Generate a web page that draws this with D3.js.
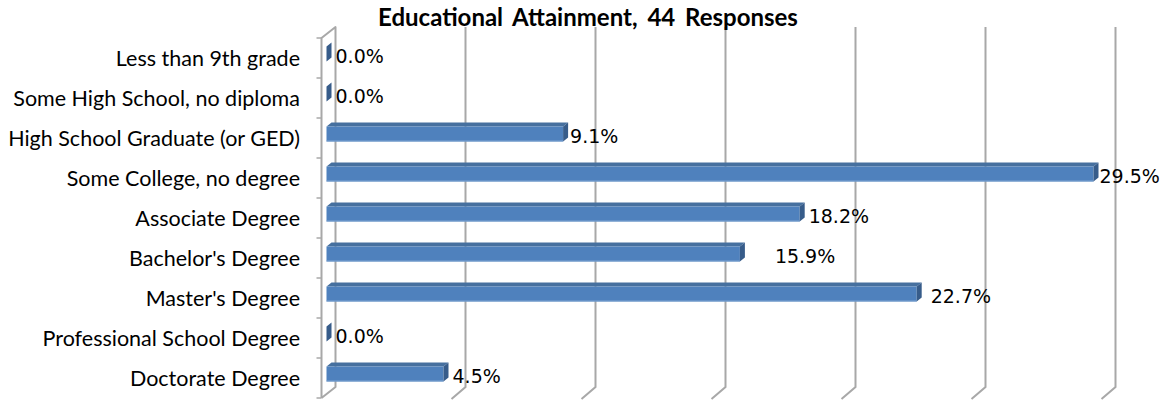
<!DOCTYPE html>
<html>
<head>
<meta charset="utf-8">
<script src="https://cdn.jsdelivr.net/npm/d3@7/dist/d3.min.js"></script>
<style>
  html, body { margin: 0; padding: 0; background: #fff; }
  svg { display: block; }
</style>
</head>
<body>
<script>
// ---------------- data ----------------
const title = "Educational Attainment, 44 Responses";
const categories = [
  "Less than 9th grade",
  "Some High School, no diploma",
  "High School Graduate (or GED)",
  "Some College, no degree",
  "Associate Degree",
  "Bachelor's Degree",
  "Master's Degree",
  "Professional School Degree",
  "Doctorate Degree"
];
const values = [0.0, 0.0, 9.1, 29.5, 18.2, 15.9, 22.7, 0.0, 4.5];
const valueLabels = ["0.0%", "0.0%", "9.1%", "29.5%", "18.2%", "15.9%", "22.7%", "0.0%", "4.5%"];
const gridTicks = [0, 5, 10, 15, 20, 25, 30];

// ---------------- layout ----------------
const W = 1168, H = 403;
const front = { x0: 321.5, y0: 38, y1: 398 };   // front plane of the 3D box
const depth = { dx: 14, dy: -11 };               // front -> back wall offset
const barDepth = { dx: 5, dy: -4 };               // depth of each bar
const barOffset = { dx: 5, dy: -4 };              // bar front face position relative to front plane
const barThickness = 15;
const labelNudge = { "Bachelor's Degree": 26, "Master's Degree": 5, "Some College, no degree": -3, "High School Graduate (or GED)": -2 };

const svg = d3.select("body").append("svg").attr("width", W).attr("height", H);

const x = d3.scaleLinear().domain([0, 30]).range([0, 780]);
const y = d3.scaleBand().domain(categories).range([front.y0, front.y1]).paddingInner(0).paddingOuter(0);

const backX0 = front.x0 + depth.dx;
const backY0 = front.y0 + depth.dy;
const backY1 = front.y1 + depth.dy;

// gridlines on back wall + floor segments
const grid = svg.append("g");
gridTicks.forEach(t => {
  const gx = backX0 + x(t);
  if (t > 0) {
    grid.append("path")
      .attr("d", `M${gx},${backY0} L${gx},${backY1} L${gx - depth.dx},${front.y1 + 1}`)
      .attr("fill", "none").attr("stroke", "#a8a8a8").attr("stroke-width", 2);
  }
});

// left wall
const wall = svg.append("g");
wall.append("path")
  .attr("d", `M${front.x0},${front.y1} L${front.x0},${front.y0} L${backX0},${backY0} L${backX0},${backY1} L${front.x0},${front.y1}`)
  .attr("fill", "none").attr("stroke", "#a8a8a8").attr("stroke-width", 2).attr("stroke-linejoin", "round");

// category ticks on the front edge of the wall
const tickYs = categories.map(c => y(c)).concat([front.y1]);
wall.selectAll("line.tick").data(tickYs).enter().append("line")
  .attr("x1", front.x0 - 5).attr("x2", front.x0)
  .attr("y1", d => d).attr("y2", d => d)
  .attr("stroke", "#a8a8a8").attr("stroke-width", 1.5);

// category labels
svg.append("g").selectAll("text").data(categories).enter().append("text")
  .attr("x", 300)
  .attr("y", d => y(d) + y.bandwidth() / 2 + 7.5)
  .attr("text-anchor", "end")
  .attr("font-family", "Lato, 'Open Sans', sans-serif")
  .attr("font-size", 21.5)
  .attr("fill", "#000")
  .text(d => d);

// bars
const bars = svg.append("g");
const bx0 = front.x0 + barOffset.dx;
categories.forEach((c, i) => {
  const cy = y(c) + y.bandwidth() / 2 + barOffset.dy;
  const top = cy - barThickness / 2, bot = cy + barThickness / 2;
  const x1 = bx0 + x(values[i]);
  const g = bars.append("g");
  // top face
  g.append("path")
    .attr("d", `M${bx0},${top} L${bx0 + barDepth.dx},${top + barDepth.dy} L${x1 + barDepth.dx},${top + barDepth.dy} L${x1},${top} Z`)
    .attr("fill", "#46709f");
  // front face
  if (values[i] > 0) {
    g.append("rect")
      .attr("x", bx0).attr("y", top)
      .attr("width", x(values[i])).attr("height", barThickness)
      .attr("fill", "#4f81bd");
    g.append("line")
      .attr("x1", bx0).attr("x2", x1).attr("y1", bot - 0.5).attr("y2", bot - 0.5)
      .attr("stroke", "#7fa3d0").attr("stroke-width", 1);
  }
  // side face
  g.append("path")
    .attr("d", `M${x1},${top} L${x1 + barDepth.dx},${top + barDepth.dy} L${x1 + barDepth.dx},${bot + barDepth.dy} L${x1},${bot} Z`)
    .attr("fill", "#375c8a");

  // value label
  svg.append("text")
    .attr("x", x1 + barDepth.dx + 4 + (labelNudge[c] || 0))
    .attr("y", y(c) + y.bandwidth() / 2 - 2 + 7)
    .attr("font-family", "'DejaVu Sans', Verdana, sans-serif")
    .attr("font-size", 19)
    .attr("fill", "#000")
    .text(valueLabels[i]);
});

// title
svg.append("text")
  .attr("x", 588).attr("y", 26)
  .attr("text-anchor", "middle")
  .attr("font-family", "Lato, 'Open Sans', sans-serif")
  .attr("font-weight", "bold")
  .attr("font-size", 24)
  .attr("word-spacing", 4)
  .attr("fill", "#000")
  .text(title);
</script>
</body>
</html>
